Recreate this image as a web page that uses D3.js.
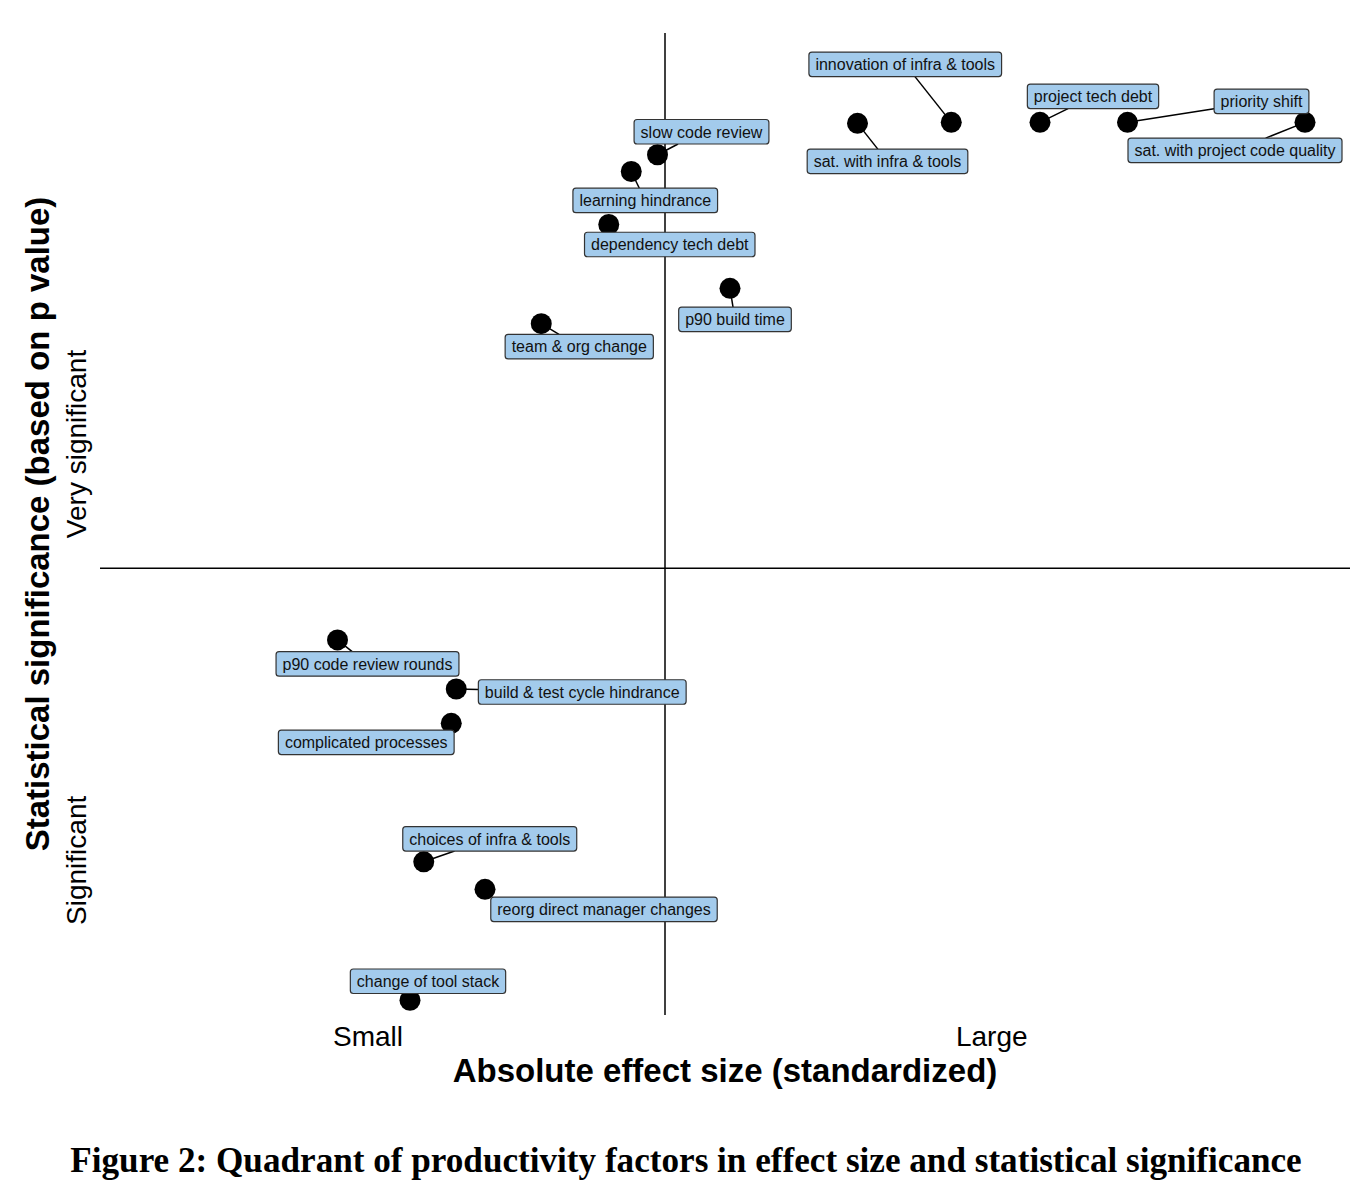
<!DOCTYPE html>
<html>
<head>
<meta charset="utf-8">
<script src="https://cdn.jsdelivr.net/npm/d3@7"></script>
<style>
  body { margin: 0; background: #fff; }
  svg { display: block; }
</style>
</head>
<body>
<div id="app"></div>
<script>
// 因子名称
const factors = [
    'innovation of infra & tools', 'sat. with infra & tools', 'project tech debt',
    'priority shift', 'sat. with project code quality', 'slow code review',
    'learning hindrance', 'dependency tech debt', 'p90 build time',
    'team & org change', 'p90 code review rounds', 'build & test cycle hindrance',
    'complicated processes', 'choices of infra & tools', 'reorg direct manager changes',
    'change of tool stack'
];
// 效应量(标准化)
const effectSize = [68.1, 60.6, 75.2, 82.2, 96.4, 44.6, 42.5, 40.7, 50.4, 35.3, 19.0, 28.5, 28.1, 25.9, 30.8, 24.8];
// 显著性
const significance = [90.9, 90.8, 90.9, 90.9, 90.9, 87.6, 85.9, 80.5, 74.0, 70.4, 38.2, 33.2, 29.7, 15.6, 12.8, 1.5];
// 刻度标签
const xTickValues = [21.4, 71.3];
const xTickLabels = ['Small', 'Large'];
const yTickValues = [15.8, 58.2];
const yTickLabels = ['Significant', 'Very significant'];
// 分界线
const xCut = 45.2;
const yCut = 45.5;

// 标签相对点的偏移(像素, 类似 ggrepel 的结果)
const labelOffsets = [
    [-46, -58], [30, 38], [53, -26], [134, -21], [-70, 28], [44, -23],
    [14, 29], [61, 20], [5, 31], [38, 23], [30, 24], [126, 3],
    [-85, 19], [66, -23], [119, 20], [18, -19]
];

const width = 1369;
const height = 1200;
const padding = { left: 100, right: 19, top: 33, bottom: 185 };

let svg = d3.select('#app').append('svg')
    .attr('width', width)
    .attr('height', height);

let xScale = d3.scaleLinear()
    .domain([0, 100])
    .range([padding.left, width - padding.right]);
let yScale = d3.scaleLinear()
    .domain([0, 100])
    .range([height - padding.bottom, padding.top]);

const sans = "'Liberation Sans', Arial, Helvetica, sans-serif";
const pointR = 10.5;

// 象限分界线
svg.append('line')
    .attr('x1', xScale(xCut)).attr('x2', xScale(xCut))
    .attr('y1', yScale(100)).attr('y2', yScale(0))
    .attr('stroke', '#000').attr('stroke-width', 1.5);
svg.append('line')
    .attr('x1', xScale(0)).attr('x2', xScale(100))
    .attr('y1', yScale(yCut)).attr('y2', yScale(yCut))
    .attr('stroke', '#000').attr('stroke-width', 1.5);

// x 轴
let xAxis = d3.axisBottom(xScale)
    .tickValues(xTickValues)
    .tickFormat((d, i) => xTickLabels[i])
    .tickSize(0);
let gx = svg.append('g')
    .attr('transform', `translate(0, ${yScale(0)})`)
    .call(xAxis);
gx.select('.domain').remove();
gx.selectAll('text')
    .attr('y', 31).attr('dy', 0)
    .attr('font-family', sans).attr('font-size', 28).attr('fill', '#000');

// y 轴
let yAxis = d3.axisLeft(yScale)
    .tickValues(yTickValues)
    .tickFormat((d, i) => yTickLabels[i])
    .tickSize(0);
let gy = svg.append('g')
    .attr('transform', `translate(${xScale(0)}, 0)`)
    .call(yAxis);
gy.select('.domain').remove();
gy.selectAll('text')
    .attr('x', 0).attr('dy', 0)
    .attr('text-anchor', 'middle')
    .attr('transform', 'translate(-14, 0) rotate(-90)')
    .attr('font-family', sans).attr('font-size', 28).attr('fill', '#000');

// 轴标题
svg.append('text')
    .attr('x', (xScale(0) + xScale(100)) / 2)
    .attr('y', 1082)
    .attr('text-anchor', 'middle')
    .attr('font-family', sans).attr('font-weight', 'bold').attr('font-size', 33)
    .text('Absolute effect size (standardized)');
svg.append('text')
    .attr('transform', `translate(49, ${(yScale(0) + yScale(100)) / 2}) rotate(-90)`)
    .attr('text-anchor', 'middle')
    .attr('font-family', sans).attr('font-weight', 'bold').attr('font-size', 33)
    .text('Statistical significance (based on p value)');

// 点
svg.selectAll('circle.pt')
    .data(factors)
    .enter()
    .append('circle')
    .attr('class', 'pt')
    .attr('cx', (d, i) => xScale(effectSize[i]))
    .attr('cy', (d, i) => yScale(significance[i]))
    .attr('r', pointR)
    .attr('fill', '#000');

// 标签
let labels = svg.selectAll('g.lab')
    .data(factors)
    .enter()
    .append('g')
    .attr('class', 'lab');

let segLayer = svg.insert('g', 'g.lab');

labels.each(function (d, i) {
    let g = d3.select(this);
    let px = xScale(effectSize[i]);
    let py = yScale(significance[i]);
    let cx = px + labelOffsets[i][0];
    let cy = py + labelOffsets[i][1];
    let t = g.append('text')
        .attr('x', cx)
        .attr('y', cy + 5.8)
        .attr('text-anchor', 'middle')
        .attr('font-family', sans).attr('font-size', 16).attr('fill', '#111')
        .text(d);
    let w = t.node().getComputedTextLength() + 13;
    let h = 24.5;
    let x0 = cx - w / 2, y0 = cy - h / 2;
    g.insert('rect', 'text')
        .attr('x', x0).attr('y', y0)
        .attr('width', w).attr('height', h)
        .attr('rx', 3)
        .attr('fill', '#a3cbec')
        .attr('stroke', '#333').attr('stroke-width', 1.2);

    // 连接线: 点到标签中心的线段与标签边框的交点; 标签压住点时不画
    let nx = Math.max(x0, Math.min(px, x0 + w));
    let ny = Math.max(y0, Math.min(py, y0 + h));
    let gap = Math.hypot(nx - px, ny - py);
    if (gap >= pointR) {
        let dx = cx - px, dy = cy - py;
        let s = Math.max(
            dx !== 0 ? (Math.abs(dx) - w / 2) / Math.abs(dx) : -Infinity,
            dy !== 0 ? (Math.abs(dy) - h / 2) / Math.abs(dy) : -Infinity
        );
        segLayer.append('line')
            .attr('x1', px).attr('y1', py)
            .attr('x2', px + dx * s).attr('y2', py + dy * s)
            .attr('stroke', '#000').attr('stroke-width', 1.5);
    }
});

// 图题
let cap = svg.append('text')
    .attr('x', 686)
    .attr('y', 1172)
    .attr('text-anchor', 'middle')
    .attr('font-family', "'Liberation Serif', 'DejaVu Serif', serif")
    .attr('font-weight', 'bold')
    .attr('font-size', 30)
    .text('Figure 2: Quadrant of productivity factors in effect size and statistical significance');
let capLen = cap.node().getComputedTextLength();
cap.attr('font-size', 30 * 1232 / capLen);
</script>
</body>
</html>
